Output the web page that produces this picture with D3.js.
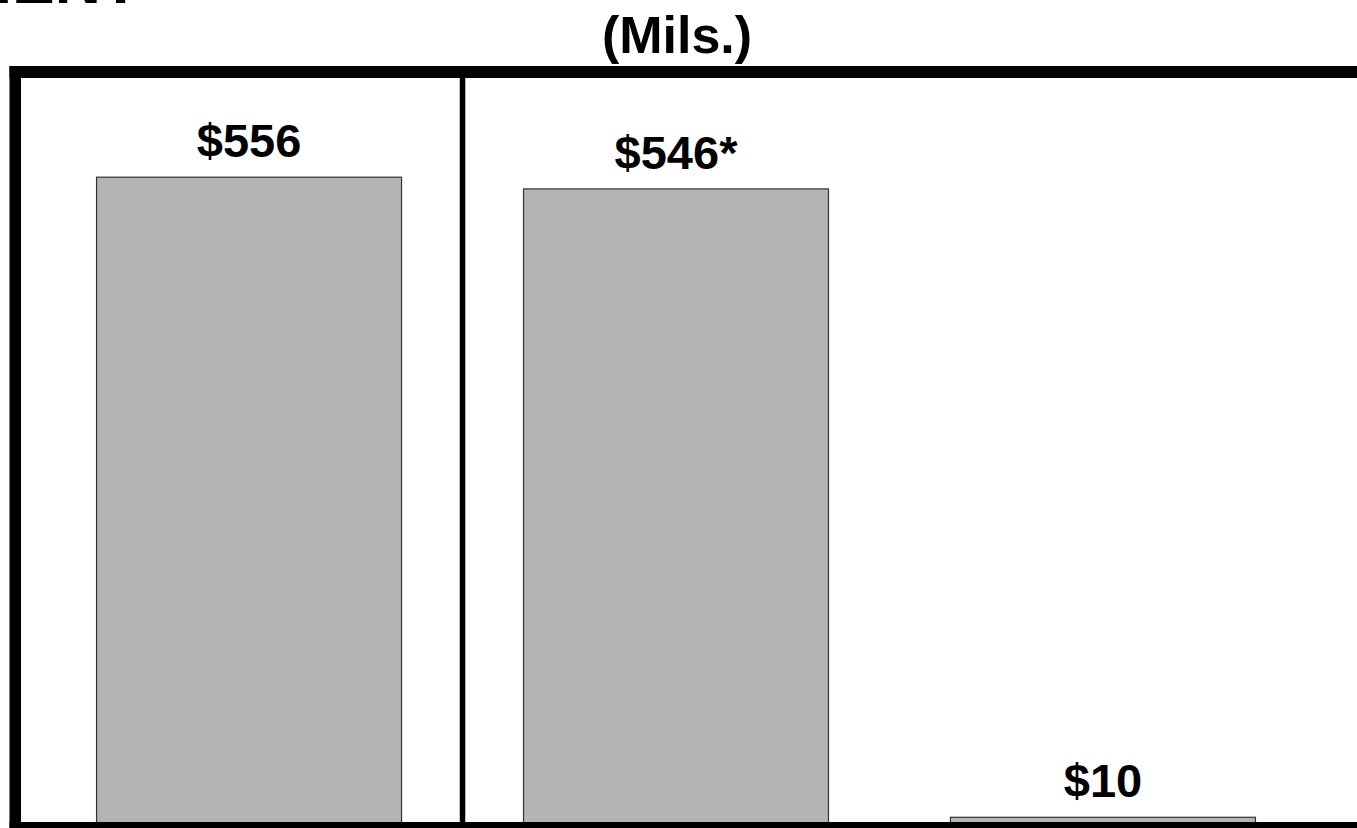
<!DOCTYPE html>
<html>
<head>
<meta charset="utf-8">
<script src="https://cdn.jsdelivr.net/npm/d3@7"></script>
<style>
  html, body { margin: 0; padding: 0; background: #fff; }
  svg { display: block; }
  text { font-family: "Liberation Sans", Arial, Helvetica, sans-serif; font-weight: bold; fill: #000; }
</style>
</head>
<body>
<script>
// Bar values (millions of dollars) and their printed labels
const categories = ["Total", "Adjusted", "Other"];
const values = [556, 546, 10];
const valueLabels = ["$556", "$546*", "$10"];
const unitLabel = "(Mils.)";
const headingTail = "MENT";

const W = 1357, H = 828;

const svg = d3.select("body").append("svg")
  .attr("width", W)
  .attr("height", H);

const x = d3.scaleBand()
  .domain(categories)
  .range([35.5, 1316.5])
  .paddingInner(0.2857)
  .paddingOuter(0.143);

const y = d3.scaleLinear()
  .domain([0, 650])
  .range([829, 67]);

// Heading (runs off the top of the page)
svg.append("text")
  .attr("text-anchor", "end")
  .attr("transform", "translate(140,3)")
  .style("font-size", "64px")
  .text(headingTail);

// Units caption
svg.append("text")
  .attr("text-anchor", "middle")
  .attr("transform", "translate(677,53)")
  .style("font-size", "52px")
  .text(unitLabel);

// Bars
svg.append("g")
  .selectAll("rect")
  .data(values)
  .join("rect")
  .attr("x", (d, i) => x(categories[i]))
  .attr("y", d => y(d))
  .attr("width", x.bandwidth())
  .attr("height", d => y(0) - y(d))
  .attr("fill", "#b4b4b4")
  .attr("stroke", "#333")
  .attr("stroke-width", 1.2);

// Value labels above each bar
svg.append("g")
  .selectAll("text")
  .data(values)
  .join("text")
  .attr("text-anchor", "middle")
  .attr("transform", (d, i) => `translate(${x(categories[i]) + x.bandwidth() / 2},${y(d) - 20})`)
  .style("font-size", "47px")
  .text((d, i) => valueLabels[i]);

// Heavy frame: top rule, left rule, bottom rule, and the divider after the first bar
const frame = svg.append("g").attr("stroke", "#000").attr("fill", "none");
frame.append("line")
  .attr("x1", 9.5).attr("x2", W + 10)
  .attr("y1", 72).attr("y2", 72)
  .attr("stroke-width", 12);
frame.append("line")
  .attr("x1", 15.25).attr("x2", 15.25)
  .attr("y1", 66).attr("y2", H + 10)
  .attr("stroke-width", 11.5);
frame.append("line")
  .attr("x1", 9.5).attr("x2", W + 10)
  .attr("y1", 828).attr("y2", 828)
  .attr("stroke-width", 12);

const dividerX = (x(categories[0]) + x.bandwidth() + x(categories[1])) / 2;
frame.append("line")
  .attr("x1", dividerX).attr("x2", dividerX)
  .attr("y1", 72).attr("y2", 828)
  .attr("stroke-width", 5.5);
</script>
</body>
</html>
